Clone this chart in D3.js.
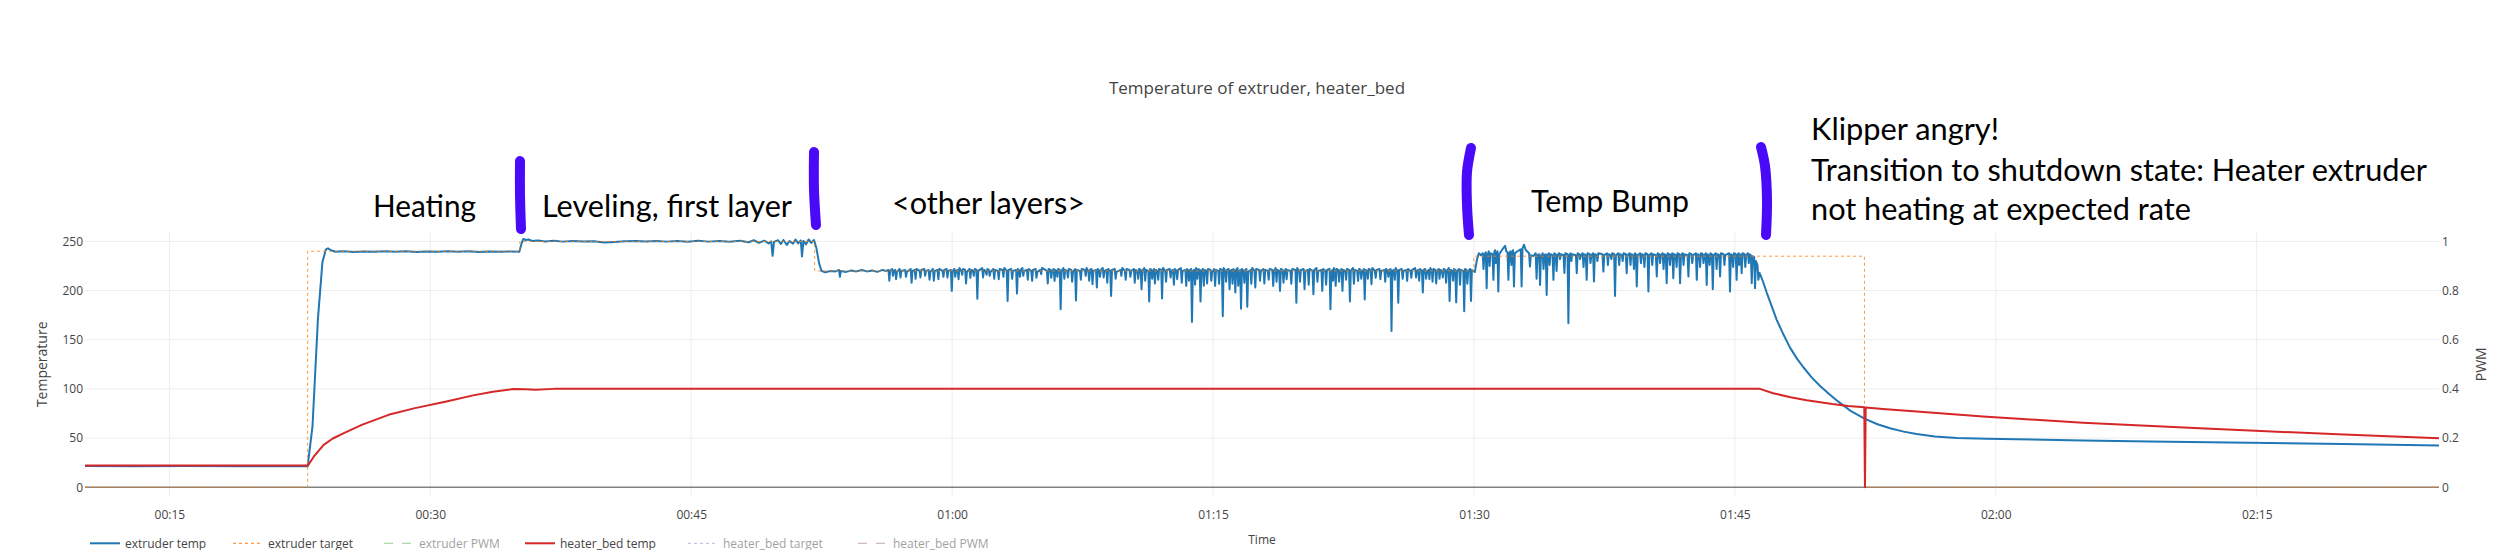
<!DOCTYPE html>
<html><head><meta charset="utf-8">
<script src="https://cdn.jsdelivr.net/npm/d3@7"></script>
<style>
html,body{margin:0;padding:0;background:#fff;}
svg{display:block;}
.pl{font-family:"Open Sans",sans-serif;fill:#444;}
.an{font-family:"Lato","Open Sans",sans-serif;fill:#000;}
</style></head><body>
<svg id="chart" width="2510" height="550"></svg>
<script>
// ---------------- DATA (time in minutes since 00:00, value) ----------------
const chartTitle = "Temperature of extruder, heater_bed";
const tempTicks = [0, 50, 100, 150, 200, 250];
const pwmTicks = [0, 0.2, 0.4, 0.6, 0.8, 1];
const legendNames = ["extruder temp", "extruder target", "extruder PWM", "heater_bed temp", "heater_bed target", "heater_bed PWM"];
const legendVisible = [true, true, false, true, false, false];

const extruderTemp = [
[10.15,21.5],[13,21.4],[16,21.6],[19,21.4],[22.95,21.3],[23.23,62],[23.54,171],[23.8,229],[24.0,242],[24.12,243],[24.3,241],[24.55,239.5],
[25.0,240],[25.6,239.3],[26.2,239.8],[26.8,239.4],[27.4,240.1],[28.0,239.5],[28.6,239.9],[29.2,239.3],[29.8,239.8],[30.4,239.4],[31.0,240],
[31.6,239.5],[32.2,239.9],[32.8,239.3],[33.4,239.7],[34.0,239.4],[34.6,239.8],[35.12,239.5],[35.25,248],[35.35,252.5],[35.5,251.5],[35.65,252],
[35.85,250.5],[36.2,251],[36.6,250],[37.1,250.6],[37.6,249.8],[38.2,250.4],[38.8,249.9],[39.4,250.3],[40.0,249],[40.6,249.5],[41.2,250.2],
[41.8,250.5],[42.4,249.9],[43.0,250.4],[43.6,249.8],[44.2,250.5],[44.8,249.7],[45.4,250.6],[46.0,249.8],[46.6,250.5],[47.2,249.6],[47.8,250.7],
[48.3,249.2],[48.6,251.2],[48.9,248.6],[49.2,250.8],[49.45,248],[49.6,250],[49.68,235.4],[49.76,249.5],[50.0,251.2],[50.15,247.5],[50.3,251.5],
[50.5,246.5],[50.65,250.5],[50.85,247.8],[51.0,251.8],[51.15,248],[51.3,251],[51.37,234.7],[51.45,250.5],[51.6,247],[51.75,252],[51.9,248.5],
[52.06,251.5],[52.2,243],[52.35,228],[52.49,220],[52.7,218.5],[53.0,220],[53.3,219.5],[53.5,221],[53.55,214],[53.6,220],[53.9,219],[54.2,220.5],
[54.5,219.5],[54.8,221],[55.1,219.5],[55.4,220.5],[55.7,219],[56.0,221],[56.2,220],
[56.34,221],[56.39,210],[56.44,220],[56.55,222],[56.6,215],[56.65,220],[56.73,221],[56.78,211.6],[56.83,219],[56.98,222],[57.03,213.3],[57.08,220],
[57.3,221],[57.35,214],[57.4,219],[57.62,222],[57.67,208],[57.72,220],[57.85,221],[57.9,212],[57.95,222],[58.13,220],[58.18,213.3],[58.23,221],
[58.4,222],[58.45,215],[58.5,220],[58.65,221],[58.7,211],[58.75,219],[58.9,222],[58.95,210],[59.0,220],[59.16,221],[59.21,211.6],[59.26,222],
[59.45,220],[59.5,214],[59.55,221],[59.68,222],[59.73,213.3],[59.78,220],[59.93,221],[59.98,199.7],[60.03,220],
[60.13,222],[60.18,214],[60.23,220],[60.32,221],[60.37,211.6],[60.42,223],[60.53,220],[60.58,216],[60.63,222],[60.75,221],[60.8,207.3],[60.85,219],
[61.0,222],[61.05,213],[61.1,221],[61.2,220],[61.25,215],[61.3,222],[61.4,221],[61.45,191.8],[61.5,220],[61.73,223],[61.78,213.3],[61.83,221],
[61.93,220],[61.98,216],[62.03,222],[62.11,221],[62.16,215],[62.21,219],[62.37,222],[62.42,212],[62.47,221],[62.63,220],[62.68,211.6],[62.73,222],
[62.9,221],[62.95,214],[63.0,223],[63.14,220],[63.19,189.4],[63.24,221],[63.4,222],[63.45,212],[63.5,220],[63.68,221],[63.73,197],[63.78,222],
[63.86,220],[63.9,214],[63.95,221],[64.04,223],[64.09,215],[64.14,220],[64.3,221],[64.35,211],[64.4,222],[64.55,220],[64.6,209.9],[64.65,221],
[64.8,222],[64.85,213],[64.9,219],[65.07,221],[65.12,216.7],[65.17,223],[65.45,220],[65.5,207.3],[65.55,222],[65.65,221],[65.7,213],[65.75,220],
[65.84,222],[65.89,209.9],[65.94,221],[66.01,220],[66.05,214],[66.1,222],[66.19,221],[66.24,181],[66.29,220],[66.4,223],[66.45,212],[66.5,221],
[66.61,220],[66.66,213.3],[66.71,222],[66.85,221],[66.9,209],[66.95,219],[67.07,222],[67.12,190],[67.17,221],[67.35,220],[67.4,211],[67.45,222],
[67.63,221],[67.68,215],[67.73,223],[67.83,220],[67.88,210],[67.93,221],[68.02,222],[68.07,206.5],[68.12,220],[68.27,221],[68.32,203.1],[68.37,222],
[68.46,220],[68.5,214],[68.55,221],[68.66,223],[68.71,213.3],[68.76,220],[68.87,221],[68.92,208],[68.97,222],[69.09,220],[69.14,194.5],[69.19,221],
[69.35,222],[69.4,212],[69.45,219],[69.68,221],[69.73,215],[69.78,223],[69.93,220],[69.98,211],[70.03,222],[70.2,221],[70.25,214],[70.3,220],
[70.45,222],[70.5,208],[70.55,221],[70.65,220],[70.7,212],[70.75,222],[70.84,221],[70.89,201.4],[70.94,220],[71.05,223],[71.1,210],[71.15,221],
[71.28,220],[71.33,189],[71.38,222],[71.46,221],[71.5,212],[71.55,219],[71.61,222],[71.66,207.3],[71.71,221],[71.8,220],[71.85,211],[71.9,222],
[72.02,221],[72.07,192],[72.12,223],[72.25,220],[72.3,209],[72.35,221],[72.51,222],[72.56,213.3],[72.61,220],[72.7,221],[72.75,206],[72.8,222],
[72.89,220],[72.94,211.6],[72.99,221],[73.15,223],[73.2,208],[73.25,220],[73.41,221],[73.46,204.8],[73.51,222],[73.58,220],[73.62,210],[73.67,221],
[73.74,222],[73.79,168],[73.84,220],[73.92,221],[73.97,206],[74.02,223],[74.06,220],[74.1,212],[74.15,222],[74.23,221],[74.28,189],[74.33,220],
[74.42,222],[74.47,205],[74.52,221],[74.61,220],[74.66,207.3],[74.71,222],[74.85,221],[74.9,210],[74.95,219],[75.07,222],[75.12,204.8],[75.17,221],
[75.3,220],[75.35,207],[75.4,222],[75.51,221],[75.56,174],[75.61,223],[75.7,220],[75.75,209],[75.8,221],[75.9,222],[75.95,201.4],[76.0,220],
[76.08,221],[76.12,207],[76.17,222],[76.24,220],[76.28,198],[76.33,221],[76.41,223],[76.45,205],[76.5,220],[76.56,221],[76.61,181.6],[76.66,222],
[76.75,220],[76.8,208],[76.85,221],[76.92,222],[76.97,183.6],[77.02,219],[77.15,221],[77.2,207],[77.25,223],[77.38,220],[77.43,203.1],[77.48,222],
[77.65,221],[77.7,210],[77.75,220],[77.9,222],[77.95,207.3],[78.0,221],[78.15,220],[78.2,211],[78.25,222],[78.41,221],[78.46,204.8],[78.51,220],
[78.6,223],[78.65,209],[78.7,221],[78.8,220],[78.85,199.7],[78.9,222],[79.0,221],[79.05,208],[79.1,219],[79.18,222],[79.23,211.6],[79.28,221],
[79.45,220],[79.5,207],[79.55,222],[79.74,221],[79.79,187.7],[79.84,223],[79.95,220],[80.0,209],[80.05,221],[80.21,222],[80.26,201.4],[80.31,220],
[80.45,221],[80.5,206],[80.55,222],[80.72,220],[80.77,196.3],[80.82,221],[80.95,223],[81.0,209],[81.05,220],[81.23,221],[81.28,199.7],[81.33,222],
[81.45,220],[81.5,206],[81.55,221],[81.7,222],[81.75,181],[81.8,219],[81.86,221],[81.9,210],[81.95,223],[82.01,220],[82.05,204.8],[82.1,222],
[82.2,221],[82.25,209],[82.3,220],[82.39,222],[82.44,199.7],[82.49,221],[82.6,220],[82.65,211],[82.7,222],[82.82,221],[82.87,189],[82.92,220],
[83.05,223],[83.1,207],[83.15,221],[83.29,220],[83.34,209.9],[83.39,222],[83.48,221],[83.52,212],[83.57,219],[83.67,222],[83.72,191],[83.77,221],
[83.86,220],[83.9,212],[83.95,222],[84.06,221],[84.11,206.5],[84.16,223],[84.3,220],[84.35,213],[84.4,221],[84.57,222],[84.62,211.6],[84.67,220],
[84.85,221],[84.9,209],[84.95,222],[85.04,220],[85.08,214],[85.13,221],[85.21,222],[85.26,158.8],[85.31,220],[85.4,221],[85.45,211],[85.5,223],
[85.6,220],[85.65,187.7],[85.7,221],[85.85,222],[85.9,212],[85.95,220],[86.11,221],[86.16,209.9],[86.21,222],[86.35,220],[86.4,213],[86.45,221],
[86.62,223],[86.67,213.3],[86.72,220],[86.8,221],[86.85,210],[86.9,222],[87.01,220],[87.06,198],[87.11,221],[87.2,222],[87.25,212],[87.3,219],
[87.39,221],[87.44,211.6],[87.49,223],[87.58,220],[87.62,209],[87.67,222],[87.78,221],[87.83,207.3],[87.88,220],[87.98,222],[88.02,212],[88.07,221],
[88.16,220],[88.21,213.3],[88.26,222],[88.35,221],[88.4,208],[88.45,220],[88.55,223],[88.6,189.4],[88.65,221],[88.75,220],[88.8,210],[88.85,222],
[88.93,221],[88.98,188],[89.03,220],[89.15,222],[89.2,206],[89.25,221],[89.39,220],[89.44,179],[89.49,222],[89.57,221],[89.62,207],[89.67,220],
[89.78,222],[89.83,189.4],[89.88,221],[89.95,220],[90.05,219],[90.18,232],[90.28,238],[90.4,236],
[90.5,238],[90.55,222],[90.6,237],[90.68,239],[90.73,202.4],[90.78,236],[90.85,240],[90.9,225],[90.95,238],[91.07,237],[91.12,210.9],[91.17,239],
[91.21,241],[91.25,228],[91.3,238],[91.35,240],[91.4,199],[91.45,237],[91.6,241],[91.72,244],[91.79,245.6],[91.86,240],
[91.93,239],[91.98,210.9],[92.03,238],[92.1,240],[92.15,226],[92.2,239],[92.25,241],[92.3,204.1],[92.35,238],[92.5,240],
[92.69,242],[92.74,204.1],[92.79,243],[92.88,246.6],[92.96,242],[93.05,240],[93.17,238],[93.22,224.4],[93.27,236],[93.4,235],
[93.55,238],[93.6,212],[93.65,236],[93.75,237],[93.8,205.8],[93.85,235],[93.95,238],[94,222],[94.05,236],[94.13,237],[94.18,195.6],[94.23,236],
[94.3,238],[94.35,226],[94.4,237],[94.52,236],[94.57,210.9],[94.62,238],[94.7,237],[94.75,220],[94.8,236],[94.9,238],[94.95,232],[95,237],
[95.15,236],[95.2,218],[95.25,238],[95.38,237],[95.43,166.8],[95.48,236],[95.56,238],[95.6,230],[95.65,237],[95.86,236],[95.91,217.7],[95.96,238],
[96.05,237],[96.1,232],[96.15,236],[96.25,238],[96.3,224],[96.35,237],[96.43,236],[96.48,210.9],[96.53,238],[96.65,237],[96.7,228],[96.75,236],
[96.85,238],[96.9,209.2],[96.95,237],[97.05,236],[97.1,230],[97.15,238],[97.39,237],[97.44,219.3],[97.49,236],[97.65,238],[97.7,226],[97.75,237],
[97.85,236],[97.9,232],[97.95,238],[98.06,237],[98.11,194.6],[98.16,236],[98.3,238],[98.35,226],[98.4,237],[98.5,236],[98.55,230],[98.6,238],
[98.73,237],[98.78,217.7],[98.83,236],[98.95,238],[99,226],[99.05,237],[99.15,236],[99.2,222],[99.25,238],[99.31,237],[99.36,204.1],[99.41,236],
[99.55,238],[99.6,228],[99.65,237],[99.75,236],[99.8,224],[99.85,238],[99.98,237],[100.03,199],[100.08,236],[100.2,238],[100.25,226],[100.3,237],
[100.46,236],[100.51,214.3],[100.56,238],[100.65,237],[100.7,228],[100.75,236],[100.85,238],[100.9,222],[100.95,237],[101.03,236],[101.08,207.5],[101.13,238],
[101.22,237],[101.27,226],[101.32,236],[101.41,238],[101.46,212.6],[101.51,237],[101.6,236],[101.65,224],[101.7,238],[101.8,237],[101.85,207.5],[101.9,236],
[102,238],[102.05,226],[102.1,237],[102.28,236],[102.33,214.3],[102.38,238],[102.5,237],[102.55,228],[102.6,236],[102.76,238],[102.81,210.9],[102.86,237],
[102.95,236],[103,224],[103.05,238],[103.15,237],[103.2,228],[103.25,236],[103.33,238],[103.38,205.8],[103.43,237],[103.5,236],[103.55,226],[103.6,238],
[103.68,237],[103.73,201.3],[103.78,236],[103.9,238],[103.95,222],[104,237],[104.1,236],[104.15,214.3],[104.2,238],[104.35,237],[104.4,226],[104.45,236],
[104.67,238],[104.72,199],[104.77,237],[104.85,236],[104.9,224],[104.95,238],[105.05,237],[105.1,210.9],[105.15,236],[105.21,238],[105.25,226],[105.3,237],
[105.35,236],[105.39,217.7],[105.44,238],[105.55,237],[105.6,224],[105.65,236],[105.75,238],[105.8,228],[105.85,237],[105.92,236],[105.97,207.5],[106.02,235],
[106.11,234],[106.16,202.4],[106.21,230],[106.3,226],[106.35,210.9],[106.42,218],
[106.6,210],[106.83,198],[107.1,185],[107.41,170],[107.8,155],[108.17,142],[108.6,130],[108.94,122],[109.4,112],[109.9,103],[110.4,95],[110.95,87],
[111.7,77],[112.48,69.5],[113.2,64],[113.92,60],[114.7,56.5],[115.45,54],[116.5,51.5],[117.75,50],[119.5,49.2],[121.2,48.7],[125.0,47.5],
[128.86,46.5],[134.6,45.3],[140.0,44],[145.48,42.3]
];

const extruderTarget = [
[10.15,0],[22.95,0],[22.95,240],[35.15,240],[35.15,250],[52.1,250],[52.1,220],[90.0,220],[90.0,235],[112.45,235],[112.45,0],[145.48,0]
];

const heaterBedTemp = [
[10.15,22],[16,22],[22.97,22],[23.3,31],[23.87,43],[24.4,49.5],[25.03,55],[26.06,63.4],[27.6,73.6],[29.12,80.4],[30.93,87.2],[32.46,93.4],
[33.6,97],[34.78,99.8],[35.5,99.5],[36.06,99],[37.09,100],[60,100],[90,100],[106.44,100],[107.2,95.5],[108.2,91.5],[109.13,88.5],[110.6,84.5],
[111.5,82.5],[112.44,81.2],[112.48,0],[112.52,81],[113.5,79.5],[115.45,77],[119.27,72],[125.01,65.5],[131.73,60],[134.6,57.6],[140,53.5],[145.48,49.7]
];

// ---------------- CHART ----------------
const svg = d3.select("#chart");
const L = 85, R = 2439, T = 231.6, B = 497;
const base = new Date(2024, 0, 1, 0, 0, 0).getTime();
const toDate = m => new Date(base + m * 60000);

const x = d3.scaleTime().domain([toDate(10.15), toDate(145.48)]).range([L, R]);
const y = d3.scaleLinear().domain([-10, 260]).range([B, T]);
const y2 = d3.scaleLinear().domain([-0.04, 1.04]).range([B, T]);
const xTicks = x.ticks(d3.timeMinute.every(15));

// gridlines
const grid = svg.append("g");
grid.selectAll(".vg").data(xTicks).join("line")
  .attr("x1", d => x(d)).attr("x2", d => x(d)).attr("y1", T).attr("y2", B)
  .attr("stroke", "#eee").attr("stroke-width", 1);
grid.selectAll(".hg").data(tempTicks.filter(d => d !== 0)).join("line")
  .attr("x1", L).attr("x2", R).attr("y1", d => y(d)).attr("y2", d => y(d))
  .attr("stroke", "#eee").attr("stroke-width", 1);
grid.append("line").attr("x1", L).attr("x2", R).attr("y1", y(0)).attr("y2", y(0))
  .attr("stroke", "#444").attr("stroke-width", 1);

// axes
const ax = svg.append("g").attr("transform", `translate(0,${B})`)
  .call(d3.axisBottom(x).tickValues(xTicks).tickFormat(d3.timeFormat("%H:%M")).tickSize(0).tickPadding(13));
const ayl = svg.append("g").attr("transform", `translate(${L},0)`)
  .call(d3.axisLeft(y).tickValues(tempTicks).tickSize(0).tickPadding(2));
const ayr = svg.append("g").attr("transform", `translate(${R},0)`)
  .call(d3.axisRight(y2).tickValues(pwmTicks).tickFormat(d => d === 0 || d === 1 ? String(d) : d3.format(".1f")(d)).tickSize(0).tickPadding(3));
[ax, ayl, ayr].forEach(g => {
  g.select(".domain").remove();
  g.selectAll("text").attr("class", "pl").style("font-size", "12px").attr("fill", "#444");
});

// clip
svg.append("clipPath").attr("id", "clip").append("rect")
  .attr("x", L).attr("y", T).attr("width", R - L).attr("height", B - T);

const line = d3.line().x(d => x(toDate(d[0]))).y(d => y(d[1]));
const plot = svg.append("g").attr("clip-path", "url(#clip)");
plot.append("path").datum(extruderTemp).attr("d", line)
  .attr("fill", "none").attr("stroke", "#1f77b4").attr("stroke-width", 2).attr("stroke-linejoin", "round");
plot.append("path").datum(extruderTarget).attr("d", line)
  .attr("fill", "none").attr("stroke", "#ff7f0e").attr("stroke-width", 1).attr("stroke-dasharray", "3,3").attr("opacity", 0.8);
plot.append("path").datum(heaterBedTemp).attr("d", line)
  .attr("fill", "none").attr("stroke", "#d62728").attr("stroke-width", 2).attr("stroke-linejoin", "round");

// titles
svg.append("text").attr("class", "pl").attr("x", 1257).attr("y", 94)
  .attr("text-anchor", "middle").style("font-size", "17px").text(chartTitle);
svg.append("text").attr("class", "pl").attr("transform", `translate(47,${(T + B) / 2}) rotate(-90)`)
  .attr("text-anchor", "middle").style("font-size", "14px").text("Temperature");
svg.append("text").attr("class", "pl").attr("transform", `translate(2486,${(T + B) / 2}) rotate(-90)`)
  .attr("text-anchor", "middle").style("font-size", "14px").text("PWM");
svg.append("text").attr("class", "pl").attr("x", (L + R) / 2).attr("y", 544)
  .attr("text-anchor", "middle").style("font-size", "12px").text("Time");

// legend
const legendColors = ["#1f77b4", "#ff7f0e", "#2ca02c", "#d62728", "#9467bd", "#8c564b"];
const legendDash = [null, "3,3", "9,9", null, "3,3", "9,9"];
const legendWidth = [2, 1, 1, 2, 1, 1];
const legendTextX = [125, 268, 419, 560, 723, 893];
const lg = svg.append("g");
legendNames.forEach((n, i) => {
  const g = lg.append("g").attr("opacity", legendVisible[i] ? 1 : 0.5);
  const tx = legendTextX[i];
  g.append("line").attr("x1", tx - 35).attr("x2", tx - 5).attr("y1", 543.3).attr("y2", 543.3)
    .attr("stroke", legendColors[i]).attr("stroke-width", legendWidth[i])
    .attr("stroke-dasharray", legendDash[i]);
  g.append("text").attr("class", "pl").attr("x", tx).attr("y", 547.5).style("font-size", "12px").text(n);
});

// hand-drawn annotations
const notes = [
  {t: "Heating", x: 373, y: 217, w: 103},
  {t: "Leveling, first layer", x: 542, y: 217, w: 250},
  {t: "<other layers>", x: 892, y: 214, w: 193},
  {t: "Temp Bump", x: 1531, y: 212, w: 158},
  {t: "Klipper angry!", x: 1811, y: 140, w: 188},
  {t: "Transition to shutdown state: Heater extruder", x: 1811, y: 181, w: 616},
  {t: "not heating at expected rate", x: 1811, y: 220, w: 380}
];
notes.forEach(n => {
  svg.append("text").attr("class", "an").attr("x", n.x).attr("y", n.y)
    .style("font-size", "31px").attr("textLength", n.w).attr("lengthAdjust", "spacingAndGlyphs").text(n.t);
});
const strokes = [
  [[520, 161], [520, 195], [521, 229]],
  [[814, 152], [814, 190], [816, 225]],
  [[1471, 148], [1467, 172], [1467, 205], [1469, 235]],
  [[1761, 147], [1765, 166], [1767, 200], [1766, 235]]
];
const sl = d3.line().curve(d3.curveCatmullRom);
strokes.forEach(s => {
  svg.append("path").attr("d", sl(s)).attr("fill", "none").attr("stroke", "#4a0af7")
    .attr("stroke-width", 10).attr("stroke-linecap", "round").attr("stroke-linejoin", "round");
});
</script></body></html>
